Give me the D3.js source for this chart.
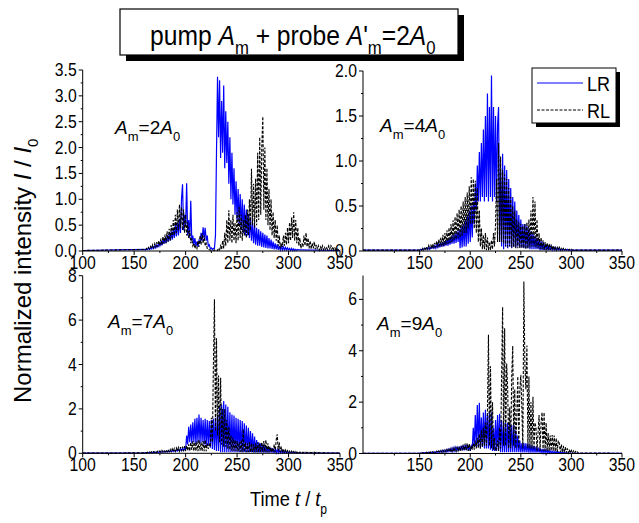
<!DOCTYPE html>
<html><head><meta charset="utf-8">
<script src="https://cdn.jsdelivr.net/npm/d3@7"></script>
<style>
html,body{margin:0;padding:0;background:#fff;}
svg{display:block;font-family:"Liberation Sans",Arial,sans-serif;}
text{white-space:pre;}
</style></head><body>
<svg id="chart" width="639" height="523"></svg>
<script>
// ---------------- DATA ----------------
const amplitudes = ["2", "4", "7", "9"];
const timeTicksLeft = [100, 150, 200, 250, 300, 350];
const timeTicksRight = [150, 200, 250, 300, 350];
const timeMinor = [125, 175, 225, 275, 325];
const yTicks1 = [0, 0.5, 1, 1.5, 2, 2.5, 3, 3.5];
const yTicks2 = [0, 0.5, 1, 1.5, 2];
const yTicks3 = [0, 2, 4, 6, 8];
const yTicks4 = [0, 2, 4, 6];
const yMax = [3.5, 2.0, 8, 6.93];
const seriesNames = ["LR", "RL"];
const tailValue = 0.01;
// start times of the sampled windows (one sample per time unit)
const lrStart = [160, 150, 160, 150];
const rlStart = [160, 150, 160, 150];

const lr1 = [
0.03,0.02,0.04,0.03,0.05,0.03,0.06,0.04,0.08,0.05,
0.1,0.06,0.12,0.08,0.15,0.1,0.17,0.11,0.22,0.14,
0.25,0.15,0.3,0.18,0.33,0.2,0.38,0.22,0.43,0.25,
0.5,0.28,0.55,0.3,0.62,0.35,1.0,1.29,0.4,0.7,
0.5,1.31,0.3,0.6,0.25,0.97,0.2,0.3,0.12,0.25,
0.1,0.18,0.08,0.2,0.15,0.35,0.2,0.46,0.25,0.45,
0.2,0.3,0.1,0.12,0.04,0.06,0.03,0.05,0.05,0.3,
1.9,3.37,2.2,3.3,1.8,2.9,1.9,3.2,1.6,2.7,
1.7,2.5,1.3,2.2,1.0,1.9,0.9,1.6,0.7,1.35,
0.6,1.2,0.5,1.1,0.4,1.0,0.35,0.9,0.3,0.8,
0.3,0.72,0.25,0.65,0.2,0.55,0.15,0.5,0.12,0.45,
0.1,0.42,0.1,0.38,0.08,0.35,0.07,0.32,0.06,0.3,
0.05,0.25,0.05,0.22,0.04,0.18,0.03,0.15,0.03,0.13,
0.02,0.1,0.02,0.09,0.02,0.08,0.02,0.07,0.02,0.06,
0.02,0.05,0.01,0.05,0.01,0.04,0.01,0.03,0.01,0.03,0.02];
const rl1 = [
0.03,0.02,0.05,0.03,0.07,0.04,0.09,0.05,0.12,0.06,
0.14,0.07,0.17,0.08,0.2,0.1,0.24,0.12,0.28,0.14,
0.32,0.15,0.38,0.18,0.43,0.2,0.5,0.25,0.6,0.3,
0.7,0.35,0.8,0.4,0.9,0.45,0.85,0.4,0.8,0.35,
0.7,0.3,0.55,0.25,0.4,0.15,0.25,0.1,0.15,0.05,
0.1,0.05,0.2,0.08,0.3,0.12,0.34,0.15,0.3,0.1,
0.15,0.05,0.05,0.02,0.02,0.01,0.02,0.01,0.02,0.01,
0.02,0.01,0.05,0.02,0.1,0.03,0.2,0.05,0.35,0.1,
0.6,0.15,0.79,0.2,0.6,0.15,0.7,0.2,0.55,0.15,
0.75,0.2,0.85,0.25,0.7,0.2,0.6,0.3,0.7,0.25,
0.8,0.3,1.0,0.4,1.59,0.5,1.3,0.45,1.4,0.5,
1.9,0.6,2.2,0.7,2.0,2.6,0.8,2.0,0.6,1.6,
0.5,1.2,0.4,1.0,0.3,0.75,0.25,0.6,0.2,0.5,
0.1,0.3,0.05,0.15,0.08,0.3,0.1,0.35,0.12,0.45,
0.15,0.55,0.2,0.65,0.25,0.75,0.2,0.6,0.15,0.45,
0.1,0.25,0.05,0.15,0.08,0.3,0.1,0.35,0.08,0.25,
0.05,0.2,0.04,0.15,0.05,0.18,0.03,0.12,0.03,0.1,
0.02,0.08,0.03,0.1,0.02,0.07,0.02,0.06,0.03,0.1,
0.04,0.12,0.03,0.08,0.02,0.06,0.02,0.05,0.02,0.04,0.02];
const lr2 = [
0.01,0.02,0.01,0.02,0.02,0.03,0.02,0.03,0.02,0.04,
0.02,0.04,0.03,0.05,0.03,0.06,0.03,0.07,0.04,0.08,
0.04,0.09,0.05,0.1,0.05,0.11,0.06,0.13,0.06,0.14,
0.07,0.16,0.08,0.18,0.08,0.2,0.09,0.22,0.1,0.24,
0.03,0.27,0.04,0.3,0.05,0.35,0.05,0.4,0.08,0.45,
0.1,0.5,0.15,0.55,0.3,0.75,0.45,0.95,0.55,1.1,
0.55,1.2,0.6,1.35,0.55,1.5,0.6,1.75,0.55,1.6,
0.6,1.95,0.55,1.6,0.6,1.5,0.55,1.4,1.6,0.1,
0.9,0.05,1.08,0.02,0.95,0.05,0.9,0.03,0.8,0.05,
0.7,0.03,0.6,0.05,0.55,0.04,0.45,0.05,0.4,0.04,
0.35,0.04,0.3,0.03,0.3,0.03,0.28,0.03,0.25,0.02,
0.22,0.02,0.2,0.02,0.17,0.02,0.15,0.02,0.13,0.01,
0.11,0.01,0.1,0.01,0.08,0.01,0.07,0.01,0.06,0.01,
0.05,0.01,0.04,0.01,0.04,0.01,0.03,0.01,0.03,0.01,
0.02,0.01,0.02,0.01,0.02,0.01,0.02,0.01,0.01,0.01,0.01];
const rl2 = [
0.01,0.02,0.01,0.03,0.01,0.04,0.02,0.05,0.02,0.06,
0.02,0.07,0.03,0.08,0.03,0.09,0.04,0.11,0.04,0.13,
0.05,0.15,0.05,0.18,0.06,0.2,0.07,0.23,0.08,0.26,
0.09,0.3,0.1,0.34,0.12,0.38,0.13,0.42,0.14,0.46,
0.15,0.5,0.17,0.55,0.2,0.6,0.2,0.65,0.25,0.72,
0.3,0.82,0.3,0.8,0.25,0.78,0.2,0.7,0.1,0.45,
0.05,0.25,0.02,0.18,0.02,0.2,0.01,0.15,0.01,0.1,
0.01,0.12,0.02,0.2,0.05,0.3,0.8,0.1,1.2,0.1,
1.05,0.1,0.9,0.08,0.85,0.05,0.8,0.05,0.7,0.05,
0.6,0.04,0.5,0.04,0.45,0.03,0.35,0.03,0.32,0.03,
0.3,0.03,0.28,0.03,0.3,0.02,0.32,0.03,0.35,0.04,
0.45,0.05,0.6,0.05,0.55,0.04,0.35,0.03,0.2,0.02,
0.15,0.02,0.12,0.01,0.1,0.01,0.09,0.01,0.08,0.01,
0.07,0.01,0.06,0.01,0.05,0.01,0.04,0.01,0.04,0.01,
0.03,0.01,0.03,0.01,0.02,0.01,0.02,0.01,0.02,0.01,
0.02,0.01,0.01,0.01,0.01,0.01,0.01,0.01,0.01,0.01,0.01];
const lr3 = [
0.02,0.03,0.02,0.03,0.03,0.04,0.03,0.04,0.03,0.05,
0.03,0.05,0.04,0.06,0.04,0.06,0.05,0.07,0.05,0.08,
0.06,0.09,0.06,0.1,0.07,0.11,0.08,0.12,0.08,0.13,
0.09,0.15,0.1,0.17,0.1,0.2,0.12,0.22,0.13,0.25,
0.15,0.8,0.4,1.2,0.5,1.3,0.45,1.4,0.5,1.55,
0.4,1.6,0.5,1.75,0.45,1.6,0.5,1.5,0.4,1.55,
0.3,1.5,0.35,1.45,0.25,1.5,0.2,1.55,0.15,1.6,
0.1,1.7,0.1,2.1,0.05,2.2,0.05,2.35,0.05,2.2,
0.05,2.1,0.05,1.85,0.05,1.75,0.05,1.7,0.05,1.6,
0.05,1.55,0.05,1.5,0.05,1.45,0.05,1.35,0.05,1.25,
0.05,1.15,0.05,1.0,0.05,0.9,0.04,0.75,0.04,0.6,
0.04,0.5,0.04,0.45,0.04,0.4,0.03,0.35,0.03,0.3,
0.03,0.28,0.03,0.25,0.03,0.22,0.02,0.2,0.02,0.17,
0.02,0.15,0.02,0.12,0.02,0.1,0.02,0.09,0.02,0.08,
0.02,0.07,0.02,0.06,0.02,0.05,0.02,0.04,0.02,0.03,0.02];
const rl3 = [
0.02,0.04,0.02,0.05,0.03,0.06,0.03,0.07,0.03,0.08,
0.04,0.09,0.04,0.1,0.05,0.11,0.05,0.13,0.06,0.14,
0.06,0.15,0.07,0.17,0.07,0.18,0.08,0.2,0.08,0.22,
0.09,0.24,0.1,0.26,0.1,0.28,0.1,0.3,0.1,0.32,
0.1,0.35,0.12,0.4,0.1,0.5,0.15,0.55,0.1,0.5,
0.1,0.55,0.1,0.6,0.12,0.5,0.1,0.55,0.1,0.6,
0.1,0.45,0.2,0.4,0.3,1.6,0.5,4.0,6.94,1.0,
5.18,0.8,3.5,0.5,3.4,0.4,2.0,0.3,2.0,0.3,
1.5,0.2,1.2,0.15,0.8,0.1,0.7,0.1,0.6,0.1,
0.55,0.08,0.5,0.06,0.6,0.05,1.08,0.05,0.5,0.05,
0.45,0.05,0.5,0.05,0.45,0.05,0.4,0.05,0.45,0.05,
0.5,0.05,0.45,0.05,0.5,0.05,0.55,0.05,0.6,0.05,
0.45,0.05,0.3,0.05,0.25,0.05,0.4,0.05,0.6,0.85,
0.1,0.5,0.05,0.3,0.03,0.2,0.03,0.15,0.02,0.12,
0.02,0.1,0.02,0.1,0.02,0.08,0.02,0.08,0.02,0.07,
0.02,0.06,0.02,0.06,0.02,0.05,0.02,0.05,0.02,0.04,
0.02,0.04,0.02,0.04,0.02,0.05,0.02,0.04,0.02,0.03,0.02];
const lr4 = [
0.01,0.02,0.01,0.03,0.02,0.03,0.02,0.04,0.02,0.05,
0.03,0.05,0.03,0.06,0.03,0.07,0.04,0.08,0.04,0.09,
0.05,0.1,0.05,0.12,0.06,0.13,0.06,0.15,0.07,0.17,
0.08,0.2,0.08,0.22,0.09,0.24,0.1,0.26,0.1,0.28,
0.11,0.3,0.12,0.32,0.12,0.34,0.13,0.35,0.12,0.33,
0.1,0.3,0.2,1.0,0.3,1.5,0.25,1.89,0.3,1.98,
0.2,1.4,0.25,1.6,0.2,1.7,0.2,1.5,0.2,1.6,
0.15,1.6,0.1,1.0,0.1,1.3,0.1,1.5,0.1,1.55,
0.05,1.3,0.05,1.2,0.05,1.2,0.05,1.2,0.05,1.2,
0.05,1.1,0.05,1.1,0.05,0.9,0.05,0.7,0.05,0.5,
0.04,0.4,0.04,0.42,0.04,0.4,0.04,0.38,0.03,0.35,
0.03,0.32,0.03,0.3,0.03,0.27,0.03,0.24,0.03,0.2,
0.02,0.18,0.02,0.16,0.02,0.14,0.02,0.12,0.02,0.1,
0.02,0.09,0.02,0.08,0.02,0.07,0.02,0.06,0.02,0.05,
0.01,0.05,0.01,0.04,0.01,0.03,0.01,0.03,0.01,0.02,0.01];
const rl4 = [
0.01,0.03,0.01,0.03,0.02,0.04,0.02,0.05,0.02,0.06,
0.03,0.06,0.03,0.07,0.03,0.08,0.04,0.09,0.04,0.1,
0.05,0.12,0.05,0.13,0.06,0.14,0.06,0.16,0.07,0.17,
0.07,0.19,0.08,0.2,0.08,0.22,0.09,0.24,0.1,0.26,
0.1,0.3,0.12,0.35,0.12,0.39,0.12,0.4,0.1,0.38,
0.1,0.3,0.15,0.4,0.15,0.5,0.2,0.6,0.2,0.75,
0.2,0.9,0.25,1.0,0.3,1.2,0.3,1.6,4.62,0.3,
3.4,0.2,2.0,0.15,0.6,0.1,0.2,0.5,0.1,1.0,
0.2,3.0,5.7,0.3,4.88,0.3,3.5,2.5,0.2,1.8,
0.2,3.0,4.19,0.3,2.5,0.2,1.5,3.0,0.2,2.5,
3.06,1.8,0.2,6.7,3.5,2.5,4.2,0.2,3.0,0.2,
2.0,0.2,2.21,0.15,1.2,1.0,0.1,0.8,1.5,0.1,
1.2,1.6,0.1,1.6,0.1,1.2,0.1,0.8,0.1,0.7,
0.1,0.72,0.1,0.7,0.08,0.6,0.05,0.5,0.4,0.05,
0.35,0.05,0.3,0.03,0.25,0.03,0.2,0.03,0.15,0.02,
0.12,0.02,0.1,0.02,0.08,0.02,0.06,0.01,0.04,0.01,0.02];

// ---------------- LAYOUT ----------------
const FONT_SCALE = 0.9;
const svg = d3.select("#chart");
const layout = [
  {x: [82.7, 340], y: [251, 70],  xDom: [100, 350], yTicks: yTicks1, yMinorStep: 0.25, fmt: d3.format(".1f"), xt: timeTicksLeft,  ann: [115, 134], lr: lr1, rl: rl1},
  {x: [363, 622],  y: [251, 71],  xDom: [94, 350],  yTicks: yTicks2, yMinorStep: 0.25, fmt: d3.format(".1f"), xt: timeTicksRight, ann: [380, 132], lr: lr2, rl: rl2},
  {x: [82.7, 340], y: [453.3, 275.7], xDom: [100, 350], yTicks: yTicks3, yMinorStep: 1, fmt: d3.format("d"), xt: timeTicksLeft,  ann: [108, 328], lr: lr3, rl: rl3},
  {x: [363, 622],  y: [453.5, 275.5], xDom: [94, 350],  yTicks: yTicks4, yMinorStep: 1, fmt: d3.format("d"), xt: timeTicksRight, ann: [377, 330], lr: lr4, rl: rl4}
];

function toPoints(start, vals, x0) {
  const pts = [[x0, tailValue]];
  vals.forEach((v, i) => pts.push([start + i, v]));
  pts.push([350, tailValue]);
  return pts;
}

layout.forEach((L, k) => {
  const x = d3.scaleLinear().domain(L.xDom).range(L.x);
  const y = d3.scaleLinear().domain([0, yMax[k]]).range(L.y);
  const g = svg.append("g");
  const line = d3.line().x(d => x(d[0])).y(d => y(d[1]));

  // data
  g.append("path").datum(toPoints(lrStart[k], L.lr, L.xDom[0]))
    .attr("d", line).attr("fill", "none").attr("stroke", "#0000ff").attr("stroke-width", 1.2)
    .attr("stroke-linejoin", "miter");
  g.append("path").datum(toPoints(rlStart[k], L.rl, L.xDom[0]))
    .attr("d", line).attr("fill", "none").attr("stroke", "#000").attr("stroke-width", 1.1)
    .attr("stroke-dasharray", "3,1.5");

  // axes lines
  g.append("line").attr("x1", L.x[0]).attr("x2", L.x[1]).attr("y1", L.y[0]).attr("y2", L.y[0])
    .attr("stroke", "#000").attr("stroke-width", 1);
  g.append("line").attr("x1", L.x[0]).attr("x2", L.x[0]).attr("y1", L.y[0]).attr("y2", L.y[1])
    .attr("stroke", "#000").attr("stroke-width", 1);

  // x ticks
  L.xt.forEach(t => {
    g.append("line").attr("x1", x(t)).attr("x2", x(t)).attr("y1", L.y[0]).attr("y2", L.y[0] + 4).attr("stroke", "#000");
    g.append("text").attr("transform", `translate(${x(t)},${L.y[0] + 17.5}) scale(${FONT_SCALE},1)`)
      .attr("text-anchor", "middle").attr("font-size", 17.5).text(t);
  });
  timeMinor.forEach(t => {
    g.append("line").attr("x1", x(t)).attr("x2", x(t)).attr("y1", L.y[0]).attr("y2", L.y[0] + 2).attr("stroke", "#000");
  });
  // y ticks
  L.yTicks.forEach(v => {
    g.append("line").attr("x1", L.x[0] - 4).attr("x2", L.x[0]).attr("y1", y(v)).attr("y2", y(v)).attr("stroke", "#000");
    g.append("text").attr("transform", `translate(${L.x[0] - 6},${y(v) + 6}) scale(${FONT_SCALE},1)`)
      .attr("text-anchor", "end").attr("font-size", 17.5).text(L.fmt(v));
  });
  d3.range(L.yMinorStep, yMax[k], L.yMinorStep * 2).forEach(v => {
    g.append("line").attr("x1", L.x[0] - 2).attr("x2", L.x[0]).attr("y1", y(v)).attr("y2", y(v)).attr("stroke", "#000");
  });

  // annotation A_m = nA_0
  const a = g.append("text").attr("transform", `translate(${L.ann[0]},${L.ann[1]})`).attr("font-size", 19);
  a.append("tspan").attr("font-style", "italic").text("A");
  a.append("tspan").attr("font-size", 13).attr("dy", 7).text("m");
  a.append("tspan").attr("dy", -7).text("=" + amplitudes[k]);
  a.append("tspan").attr("font-style", "italic").text("A");
  a.append("tspan").attr("font-size", 13).attr("dy", 7).text("0");
});

// ---------------- TITLE ----------------
svg.append("rect").attr("x", 126).attr("y", 15).attr("width", 338).attr("height", 46).attr("fill", "#000");
svg.append("rect").attr("x", 120).attr("y", 9).attr("width", 338).attr("height", 46)
  .attr("fill", "#fff").attr("stroke", "#000").attr("stroke-width", 1.2);
const tt = svg.append("text").attr("transform", `translate(150,45) scale(0.88,1)`).attr("font-size", 28);
tt.append("tspan").text("pump ");
tt.append("tspan").attr("font-style", "italic").text("A");
tt.append("tspan").attr("font-size", 19).attr("dy", 9).text("m");
tt.append("tspan").attr("dy", -9).text(" + probe ");
tt.append("tspan").attr("font-style", "italic").text("A");
tt.append("tspan").text("'");
tt.append("tspan").attr("font-size", 19).attr("dy", 9).text("m");
tt.append("tspan").attr("dy", -9).text("=2");
tt.append("tspan").attr("font-style", "italic").text("A");
tt.append("tspan").attr("font-size", 19).attr("dy", 9).text("0");

// ---------------- LEGEND ----------------
svg.append("rect").attr("x", 536).attr("y", 72).attr("width", 84).attr("height", 55).attr("fill", "#000");
svg.append("rect").attr("x", 532).attr("y", 68).attr("width", 84).attr("height", 55)
  .attr("fill", "#fff").attr("stroke", "#000").attr("stroke-width", 1);
svg.append("line").attr("x1", 537).attr("x2", 583).attr("y1", 83).attr("y2", 83).attr("stroke", "#0000ff").attr("stroke-width", 1.2);
svg.append("line").attr("x1", 537).attr("x2", 583).attr("y1", 110).attr("y2", 110).attr("stroke", "#000")
  .attr("stroke-dasharray", "3,1.5");
svg.append("text").attr("transform", `translate(587,91) scale(${FONT_SCALE},1)`).attr("font-size", 20).text(seriesNames[0]);
svg.append("text").attr("transform", `translate(587,118) scale(${FONT_SCALE},1)`).attr("font-size", 20).text(seriesNames[1]);

// ---------------- AXIS TITLES ----------------
const yl = svg.append("text").attr("transform", "translate(31,403) rotate(-90)").attr("font-size", 24);
yl.append("tspan").text("Normalized intensity ");
yl.append("tspan").attr("font-style", "italic").text("I");
yl.append("tspan").text(" / ");
yl.append("tspan").attr("font-style", "italic").text("I");
yl.append("tspan").attr("font-size", 15).attr("dy", 7).text("0");

const xl = svg.append("text").attr("transform", "translate(250,506) scale(0.87,1)").attr("font-size", 21);
xl.append("tspan").text("Time ");
xl.append("tspan").attr("font-style", "italic").text("t");
xl.append("tspan").text(" / ");
xl.append("tspan").attr("font-style", "italic").text("t");
xl.append("tspan").attr("font-size", 14).attr("dy", 8).text("p");
</script>
</body></html>
